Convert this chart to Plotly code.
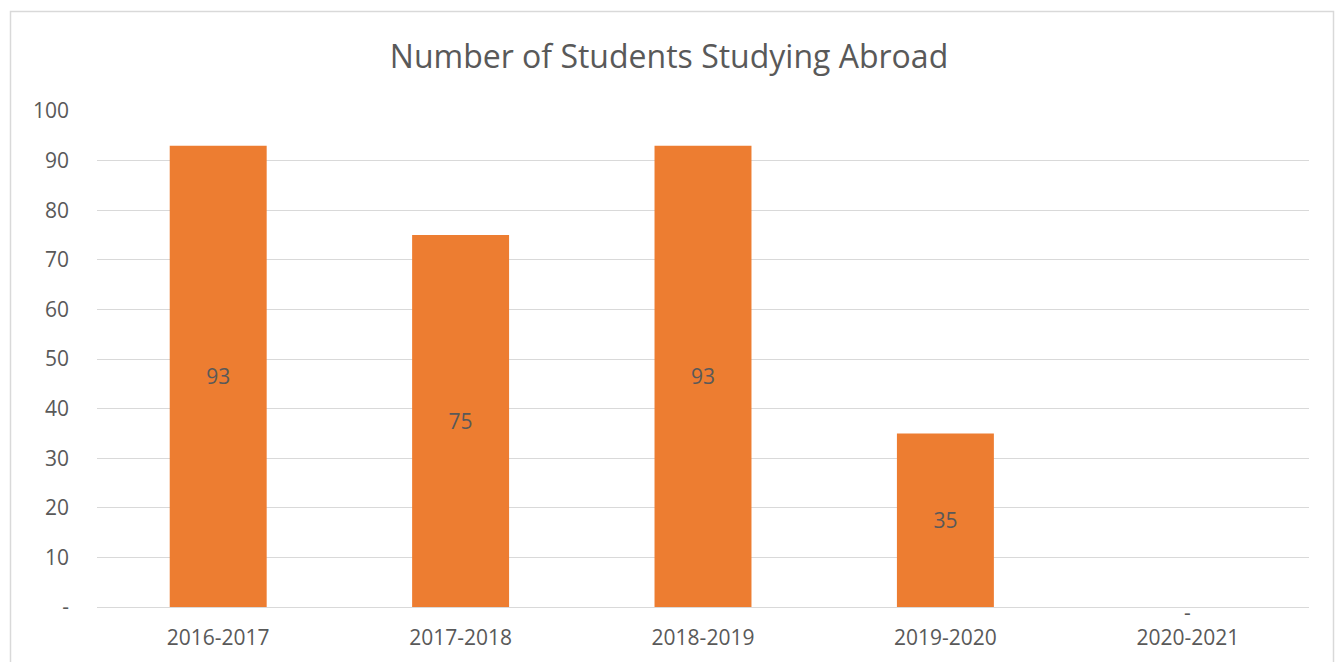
import plotly.graph_objects as go

categories = ["2016-2017", "2017-2018", "2018-2019", "2019-2020", "2020-2021"]
students = [93, 75, 93, 35, 0]
y_tick_values = [0, 10, 20, 30, 40, 50, 60, 70, 80, 90, 100]
y_tick_labels = ["-", "10", "20", "30", "40", "50", "60", "70", "80", "90", "100"]

labels = ["" if v == 0 else str(v) for v in students]

FONT = "Open Sans"
GREY = "#595959"
TS = 21

fig = go.Figure()
fig.add_trace(
    go.Bar(
        x=categories,
        y=students,
        text=labels,
        textposition="inside",
        insidetextanchor="middle",
        textfont=dict(family=FONT, size=TS, color=GREY),
        marker=dict(color="#ED7D31", line=dict(width=0)),
        hoverinfo="x+y",
    )
)

# zero-value data labels shown as "-" just under the axis line
for c, v in zip(categories, students):
    if v == 0:
        fig.add_annotation(
            x=c, y=v, text="-", showarrow=False, yshift=-5,
            font=dict(family=FONT, size=TS, color=GREY),
        )

fig.update_layout(
    width=1338,
    height=662,
    paper_bgcolor="white",
    plot_bgcolor="white",
    bargap=0.6,
    showlegend=False,
    margin=dict(l=97, r=29, t=111, b=55),
    title=dict(
        text="Number of Students Studying Abroad",
        x=0.5,
        xanchor="center",
        y=1 - 57 / 662,
        yanchor="middle",
        font=dict(family=FONT, size=32, color=GREY),
    ),
    font=dict(family=FONT, size=TS, color=GREY),
    xaxis=dict(
        showgrid=False,
        showline=True,
        linecolor="#D9D9D9",
        linewidth=1,
        ticks="",
        tickfont=dict(family=FONT, size=TS, color=GREY),
        ticklabelstandoff=12,
    ),
    yaxis=dict(
        range=[0, 100],
        tickvals=y_tick_values,
        ticktext=y_tick_labels,
        showgrid=True,
        gridcolor="#D9D9D9",
        gridwidth=1,
        zeroline=False,
        showline=False,
        ticks="",
        ticklabelstandoff=27,
        tickfont=dict(family=FONT, size=TS, color=GREY),
    ),
    shapes=[
        dict(
            type="rect",
            xref="paper",
            yref="paper",
            x0=(10.5 - 97) / 1212,
            x1=(1333.5 - 97) / 1212,
            y0=-0.3,
            y1=(607 - 11.5) / 496,
            line=dict(color="#D9D9D9", width=1.5),
            fillcolor="rgba(0,0,0,0)",
            layer="below",
        )
    ],
)

fig.write_html(
    "out.html",
    config={"displayModeBar": False},
    post_script="document.body.style.margin='0';document.body.style.overflow='hidden';",
)
